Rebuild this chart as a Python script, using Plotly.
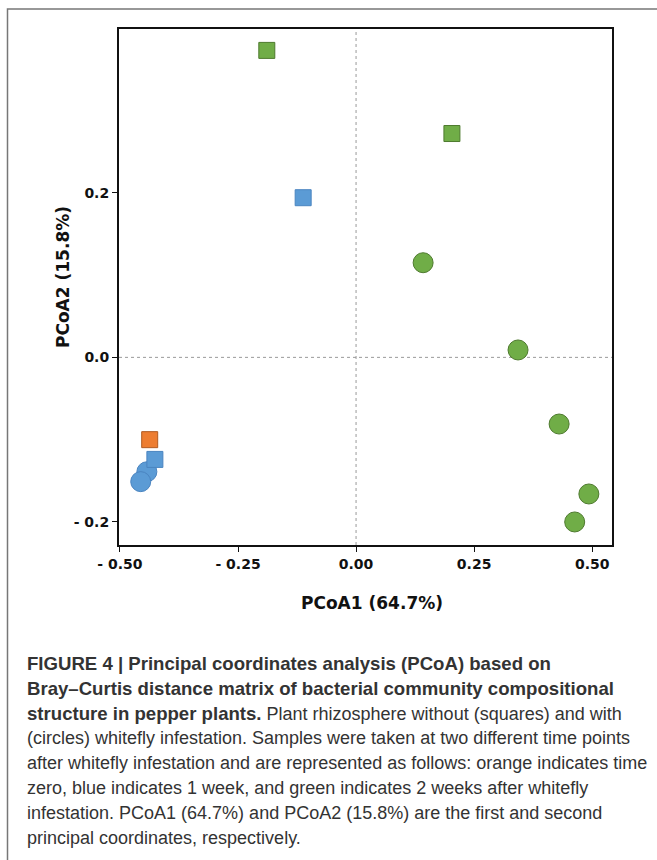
import plotly.graph_objects as go

# ---- data ----
orange_sq_x = [-0.437]
orange_sq_y = [-0.100]
blue_sq_x = [-0.112, -0.426]
blue_sq_y = [0.194, -0.124]
blue_ci_x = [-0.443, -0.456]
blue_ci_y = [-0.139, -0.151]
green_sq_x = [-0.189, 0.203]
green_sq_y = [0.373, 0.272]
green_ci_x = [0.142, 0.343, 0.430, 0.493, 0.463]
green_ci_y = [0.115, 0.009, -0.081, -0.166, -0.200]

x_tickvals = [-0.50, -0.25, 0.00, 0.25, 0.50]
x_ticktext = ["- 0.50", "- 0.25", "0.00", "0.25", "0.50"]
y_tickvals = [0.2, 0.0, -0.2]
y_ticktext = ["0.2", "0.0", "- 0.2"]

x_title = "PCoA1 (64.7%)"
y_title = "PCoA2 (15.8%)"

B_ = "<span style='font-size:18.6px'><b>"
_B = "</b></span>"
caption_lines = [
    B_ + "FIGURE 4 | Principal coordinates analysis (PCoA) based on" + _B,
    B_ + "Bray–Curtis distance matrix of bacterial community compositional" + _B,
    B_ + "structure in pepper plants." + _B + " Plant rhizosphere without (squares) and with",
    "(circles) whitefly infestation. Samples were taken at two different time points",
    "after whitefly infestation and are represented as follows: orange indicates time",
    "zero, blue indicates 1 week, and green indicates 2 weeks after whitefly",
    "infestation. PCoA1 (64.7%) and PCoA2 (15.8%) are the first and second",
    "principal coordinates, respectively.",
]

W, H = 657, 860
L, R, T, B = 119, 612, 29, 545  # plot area in pixels
pw, ph = R - L, B - T


def px2paper_x(px):
    return (px - L) / pw


def px2paper_y(py):
    return (B - py) / ph


GREEN, GREEN_LINE = "#70AD47", "#4E7A2E"
BLUE, BLUE_LINE = "#5B9BD5", "#4A84C0"
ORANGE, ORANGE_LINE = "#ED7D31", "#B05A20"

fig = go.Figure()

fig.add_trace(go.Scatter(x=blue_ci_x, y=blue_ci_y, mode="markers",
                         marker=dict(symbol="circle", size=20, color=BLUE,
                                     line=dict(color=BLUE_LINE, width=1))))
fig.add_trace(go.Scatter(x=green_ci_x, y=green_ci_y, mode="markers",
                         marker=dict(symbol="circle", size=20, color=GREEN,
                                     line=dict(color=GREEN_LINE, width=1))))
fig.add_trace(go.Scatter(x=orange_sq_x, y=orange_sq_y, mode="markers",
                         marker=dict(symbol="square", size=16, color=ORANGE,
                                     line=dict(color=ORANGE_LINE, width=1))))
fig.add_trace(go.Scatter(x=blue_sq_x, y=blue_sq_y, mode="markers",
                         marker=dict(symbol="square", size=16, color=BLUE,
                                     line=dict(color=BLUE_LINE, width=1))))
fig.add_trace(go.Scatter(x=green_sq_x, y=green_sq_y, mode="markers",
                         marker=dict(symbol="square", size=16, color=GREEN,
                                     line=dict(color=GREEN_LINE, width=1))))

tickfont = dict(family="DejaVu Sans", size=14, color="#111", weight="bold")

fig.update_xaxes(range=[-0.502, 0.542], tickvals=x_tickvals, ticktext=x_ticktext,
                 showgrid=False, zeroline=False, showline=True, linecolor="#111",
                 linewidth=2, mirror=True, ticks="outside", ticklen=5,
                 tickcolor="#111", tickwidth=1, tickfont=tickfont)
fig.update_yaxes(range=[-0.228, 0.399], tickvals=y_tickvals, ticktext=y_ticktext,
                 showgrid=False, zeroline=False, showline=True, linecolor="#111",
                 linewidth=2, mirror=True, ticks="outside", ticklen=5,
                 tickcolor="#111", tickwidth=1, tickfont=tickfont)

# dashed reference lines at zero
fig.add_shape(type="line", xref="x", yref="paper", x0=0, x1=0, y0=0, y1=1,
              line=dict(color="#9a9a9a", width=1, dash="dot"), layer="below")
fig.add_shape(type="line", xref="paper", yref="y", x0=0, x1=1, y0=0, y1=0,
              line=dict(color="#9a9a9a", width=1, dash="dot"), layer="below")

# outer figure border
fig.add_shape(type="rect", xref="paper", yref="paper",
              x0=px2paper_x(7.5), x1=px2paper_x(700),
              y0=px2paper_y(900), y1=px2paper_y(9),
              line=dict(color="#777", width=1.5), fillcolor="rgba(0,0,0,0)")

annotations = []
annotations.append(dict(xref="paper", yref="paper", x=px2paper_x(372), y=px2paper_y(603),
                        text=f"<b>{x_title}</b>", showarrow=False,
                        xanchor="center", yanchor="middle",
                        font=dict(family="DejaVu Sans", size=17, color="#111")))
annotations.append(dict(xref="paper", yref="paper", x=px2paper_x(63), y=px2paper_y(277),
                        text=f"<b>{y_title}</b>", showarrow=False, textangle=-90,
                        xanchor="center", yanchor="middle",
                        font=dict(family="DejaVu Sans", size=17, color="#111")))

for i, line in enumerate(caption_lines):
    annotations.append(dict(xref="paper", yref="paper", x=px2paper_x(25),
                            y=px2paper_y(663 + 25 * i), text=line, showarrow=False,
                            xanchor="left", yanchor="middle", align="left",
                            font=dict(family="Liberation Sans", size=18, color="#333")))

fig.update_layout(width=W, height=H, margin=dict(l=L, r=W - R, t=T, b=H - B),
                  paper_bgcolor="white", plot_bgcolor="white", showlegend=False,
                  annotations=annotations)

fig.write_html("out.html", config={"displayModeBar": False},
               post_script="document.body.style.margin='0px';document.body.style.overflow='hidden';")
